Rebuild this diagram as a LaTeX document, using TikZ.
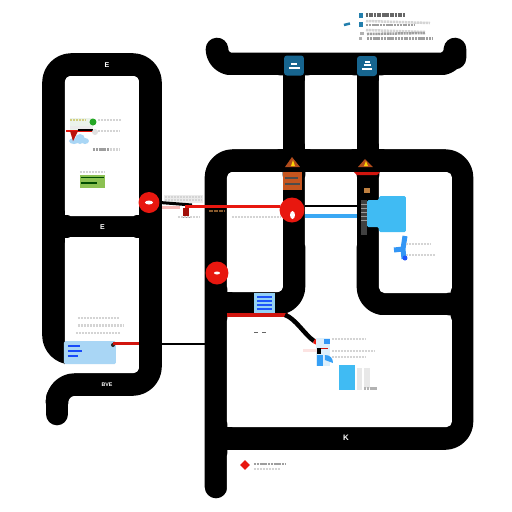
\documentclass[tikz,border=0pt]{standalone}
\usepackage{fontspec}
\usetikzlibrary{shapes.geometric}
\setmainfont{Liberation Sans}
\definecolor{road}{HTML}{000000}
\definecolor{redd}{HTML}{E8170F}
\definecolor{sky}{HTML}{40BBF3}
\definecolor{pale}{HTML}{A9D6F5}
\definecolor{teal}{HTML}{17658F}
\definecolor{rust}{HTML}{C5551F}
\definecolor{leaf}{HTML}{8CC152}
\tikzset{
 roadline/.style={draw=road,line width=22.6*0.02cm,line cap=round,line join=round},
 faint/.style={draw=black!17,line width=0.05cm,dash pattern=on 1.3pt off 0.4pt},
 dim/.style={draw=black!38,line width=0.05cm,dash pattern=on 1.2pt off 0.4pt},
 sign/.style={text=white,font=\fontsize{4}{5}\selectfont\bfseries,inner sep=0pt},
 pin/.style={circle,fill=redd,draw=none,inner sep=0pt},
 tile/.style={fill=teal,draw=none,rounded corners=0.06cm,minimum size=0.4cm,inner sep=0pt},
 hole/.style={fill=white,draw=none,rounded corners=0.11cm},
}
\begin{document}
\begin{tikzpicture}[x=0.02cm,y=-0.02cm]
\useasboundingbox (0,0) rectangle (512,512);
\fill[white] (0,0) rectangle (512,512);
% left loop
\draw[roadline,rounded corners=0.36cm,line cap=butt] (65,353.2) -- (53.5,353.2) -- (53.5,64.5) -- (150.5,64.5) -- (150.5,384.5) -- (57,384.5) -- (57,400);
\draw[roadline] (57,398) -- (57,414);
\draw[roadline,line cap=butt] (53.5,226.5) -- (150.5,226.5);
% top road
\draw[roadline,rounded corners=0.3cm] (217,50) -- (217,64) -- (455,64) -- (455,58);
\draw[roadline,line cap=butt] (294,64) -- (294,160);
\draw[roadline,line cap=butt] (368,64) -- (368,160);
% main network
\draw[roadline,rounded corners=0.34cm] (216,487) -- (216,160.5) -- (462,160.5) -- (462,438.5) -- (216,438.5);
\draw[roadline,rounded corners=0.34cm,line cap=butt] (294,160) -- (294,303.5) -- (216,303.5);
\draw[roadline,rounded corners=0.34cm,line cap=butt] (368,160) -- (368,304) -- (462,304);
% rounded inner corners of the blocks
\fill[hole] (65,76) rectangle (139,216);
\fill[hole] (65,237) rectangle (139,373);
\fill[hole] (190,75) rectangle (283,149);
\fill[hole] (305,75) rectangle (357,149);
\fill[hole] (379,75) rectangle (500,149);
\fill[hole] (227,172) rectangle (283,292);
\fill[hole] (305,172) rectangle (357,250);
\fill[hole] (379,172) rectangle (452,293);
\fill[hole] (227,315) rectangle (452,427);
\fill[hole] (227,450) rectangle (500,530);
% white labels
\node[sign] (s1) at (107,65) {E};
\node[sign] (s2) at (102.5,227) {E};
\node[sign,font=\fontsize{3}{3}\selectfont\bfseries] (s3) at (107,384.5) {BVE};
\node[sign,font=\fontsize{4.5}{5}\selectfont\bfseries] (s4) at (346,437.5) {K};
% top tiles
\node[tile] (t1) at (294,65.5) {};
\node[tile] (t2) at (367,66) {};
\draw[white,line width=0.04cm] (289,68) -- (300,68) (291,64) -- (297,64);
\draw[white,line width=0.03cm] (362,69) -- (372,69) (364,65) -- (371,65) (365,62) -- (370,62);
% top legend
\fill[teal!70!sky] (359,13) rectangle (363,18);
\fill[teal!70!sky] (359,22) rectangle (363,27);
\draw[teal!70!sky,line width=0.05cm] (344,25) -- (350,23.5);
\draw[draw=black!60,line width=0.07cm,dash pattern=on 1.2pt off 0.3pt] (366,15) -- (405,15);
\draw[faint] (366,21) -- (430,23);
\draw[dim] (366,25) -- (415,25);
\draw[faint] (366,30) -- (425,32);
\fill[black!30] (360,32) rectangle (364,35);
\draw[dim] (367,34) -- (425,33);
\fill[black!30] (359,37) rectangle (362,40);
\draw[dim] (367,38.5) -- (433,38.5);
% upper left box
\fill[green!40!black!8] (70,118) rectangle (93,130);
\draw[faint,draw=olive!40] (70,120) -- (85,120);
\fill[green!60!black!85] (93,122) circle (3.5);
\draw[faint] (98,120) -- (121,120);
\fill[black!8] (70,126) rectangle (92,129);
\fill[redd] (66,129.5) rectangle (93,131.5);
\draw[black,line width=0.04cm] (78,129.5) -- (93,129.5);
\fill[black!12] (95,132) circle (3);
\draw[faint] (98,131) -- (119,131);
\fill[pale] (74,141) ellipse (5 and 3) (80,139) ellipse (5 and 5) (85,141) ellipse (4 and 3);
\fill[redd!80!black] (70,131) -- (78,131) -- (73,141) -- cycle;
\draw[dim] (93,149.5) -- (110,149.5);
\draw[faint] (110,149.5) -- (120,149.5);
\draw[faint] (80,172) -- (104,172);
\fill[leaf] (80,175) rectangle (105,188);
\draw[green!30!black,line width=0.03cm] (81,177.5) -- (104,177.5) (81,183) -- (97,183);
% red connector
\node[pin,minimum size=0.42cm] (a) at (149,202.5) {};
\node[pin,minimum size=0.5cm] (b) at (292,210) {};
\node[pin,minimum size=0.46cm] (c) at (217,273) {};
\coordinate (rm) at (280,206.5);
\fill[black!8] (164,195) rectangle (203,203);
\draw[faint] (165,197) -- (202,197) (165,200) -- (202,200);
\draw[redd!30,line width=0.05cm] (162,207.5) -- (180,207.5);
\draw[black,line width=0.06cm] (a.east) -- (192,205);
\draw[redd,line width=0.06cm] (185,206.5) -- (rm);
\fill[redd!70!black] (183.5,208) rectangle (189,216);
\fill[black!40] (181,216.5) rectangle (190,217.5);
\draw[faint] (178,217) -- (200,217) (232,217) -- (280,217);
\draw[brown!70!black,line width=0.05cm,dash pattern=on 1pt off 0.4pt] (209,211) -- (224,211);
% pin highlights
\fill[white] (149,202.5) ellipse (4 and 2);
\fill[white] (292.5,215) ellipse (2.5 and 4);
\fill[white] (217,273) ellipse (3 and 1.5);
% flames and orange box
\fill[rust!90!black] (285,167) -- (292,157) -- (300,167) -- cycle;
\fill[yellow!70!orange] (291,166) -- (293,160) -- (295,166) -- cycle;
\fill[rust!90!black] (358,167) -- (365,159) -- (373,167) -- cycle;
\fill[yellow!70!orange] (364,166) -- (366,161) -- (368,166) -- cycle;
\fill[rust] (283,172) rectangle (302,190);
\draw[black!70,line width=0.03cm] (285,178) -- (298,178) (285,184) -- (300,184);
\fill[redd!90!black] (354,172) -- (380,172) -- (377,175) -- (357,175) -- cycle;
\fill[brown] (364,188) rectangle (370,193);
% right connectors and blue box
\coordinate (bp) at (305,206);
\coordinate (bq) at (305,216);
\coordinate (bx) at (357,206);
\coordinate (by) at (357,216);
\draw[black,line width=0.05cm] (bp) -- (bx);
\draw[sky!90!blue,line width=0.09cm] (bq) -- (by);
\fill[sky,rounded corners=0.03cm] (379,196) -- (406,196) -- (406,232) -- (379,232) -- (379,227) -- (367,227) -- (367,200) -- (379,200) -- cycle;
\fill[black!75] (361,200) rectangle (367,235);
\draw[white!60!black,line width=0.02cm] (361,204) -- (367,204) (361,208) -- (367,208) (361,212) -- (367,212) (361,216) -- (367,216) (361,220) -- (367,220);
% fan
\draw[sky!80!blue,line width=0.1cm] (403,249) -- (405,236) (403,249) -- (394,250) (403,249) -- (404,259);
\fill[blue!55!sky] (405,258) circle (2.5);
\draw[faint] (406,244) -- (431,244) (406,255) -- (435,255);
% lower-left box
\draw[faint] (78,318) -- (119,318) (78,325.5) -- (123,325.5) (76,333) -- (120,333);
\fill[pale,rounded corners=0.03cm] (64,341) rectangle (116,364);
\draw[blue!60!sky,line width=0.04cm] (68,346) -- (80,346) (68,351) -- (82,351) (68,356) -- (78,356);
\fill[black!85] (113,345) circle (2);
\draw[redd!90!black,line width=0.07cm] (113,343.5) -- (139,343.5);
\coordinate (cl) at (162,344);
\coordinate (cr) at (205,344);
\draw[black,line width=0.04cm] (cl) -- (cr);
% middle blue panel
\fill[pale!80!sky] (254,293) rectangle (275,314);
\draw[blue!55!sky,line width=0.03cm] (257,297) -- (272,297) (257,301) -- (272,301) (257,305) -- (272,305) (257,309) -- (272,309);
\draw[redd!90!black,line width=0.07cm] (227,315) -- (288,315);
\draw[black,line width=0.09cm] (285,315) .. controls (295,318) and (305,335) .. (314,341);
\draw[redd,line width=0.09cm] (314,341) -- (320,344);
\fill[black!60] (254,331.5) rectangle (258,333);
\fill[black!60] (262,331.5) rectangle (266,333);
% lower right cluster
\fill[pale!40] (316,338) rectangle (330,366);
\fill[sky!80!blue] (324,339) rectangle (330,344);
\fill[black] (317,348) rectangle (321,354);
\fill[redd!90!black] (321,348) rectangle (328,349);
\fill[redd!12] (303,349) rectangle (317,352);
\fill[sky!85!blue] (317,355) rectangle (323,366);
\fill[sky!85!blue] (325,360) -- (325,355) .. controls (330,355) and (333,358) .. (333,363) -- cycle;
\draw[faint] (332,339) -- (366,339) (332,351) -- (375,351) (332,357) -- (366,357);
\fill[sky] (339,365) rectangle (355,390);
\fill[black!9] (357,368) rectangle (362,390);
\fill[black!9] (364,368) rectangle (370,388);
\draw[dim,draw=black!30] (364,388.5) -- (378,388.5);
% bottom legend
\node[diamond,fill=redd,minimum size=0.2cm,inner sep=0pt] (d) at (245,465) {};
\draw[dim] (254,464) -- (285,464);
\draw[faint] (254,469) -- (280,469);
\end{tikzpicture}
\end{document}
